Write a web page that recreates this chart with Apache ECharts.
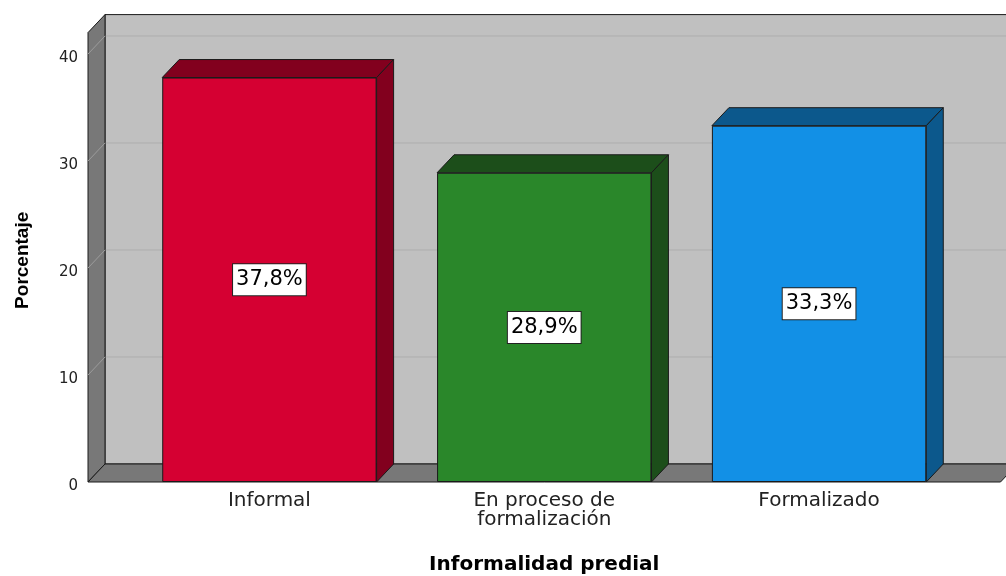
<!DOCTYPE html>
<html>
<head>
<meta charset="utf-8">
<script src="https://cdn.jsdelivr.net/npm/echarts@6/dist/echarts.min.js"></script>
<style>
  html, body { margin: 0; padding: 0; background: #ffffff; }
  #chart { width: 1006px; height: 576px; }
</style>
</head>
<body>
<div id="chart"></div>
<script>
// Informalidad predial: percentage of plots per category
const categories = ['Informal', 'En proceso de\nformalización', 'Formalizado'];
const percentages = [37.8, 28.9, 33.3];
const faceColors = ['#d50032', '#2a872a', '#1290e6'];
const shadeColors = ['#82001e', '#1c4e1a', '#0c588c'];
const gridValues = [10, 20, 30, 40];
const axisMax = 42;

// 3D look: depth offset of the extruded faces and walls (pixels)
const DX = 17, DY = 18;
const WALL_GAP = 44;      // distance between outer walls and first/last category band
const BAR_RATIO = 0.78;   // bar width as share of the category band
const EDGE = '#1a1a1a';

const chart = echarts.init(document.getElementById('chart'), null, { renderer: 'canvas' });

function renderWalls(params, api) {
  const cs = params.coordSys;
  const y0 = api.coord([0, 0])[1];
  const yTop = api.coord([0, axisMax])[1];
  const xl = cs.x - WALL_GAP;
  const xr = cs.x + cs.width + WALL_GAP;
  const farRight = xr + DX + 40;
  const children = [];

  // back wall with its gridlines
  children.push({
    type: 'rect',
    shape: { x: xl + DX, y: yTop - DY, width: farRight - (xl + DX), height: y0 - yTop },
    style: { fill: '#c0c0c0', stroke: EDGE, lineWidth: 1 }
  });
  gridValues.forEach(v => {
    const yv = api.coord([0, v])[1];
    children.push({
      type: 'line',
      shape: { x1: xl + DX, y1: yv - DY, x2: farRight, y2: yv - DY },
      style: { stroke: '#adadad', lineWidth: 1 }
    });
  });

  // left side wall
  children.push({
    type: 'polygon',
    shape: { points: [[xl, y0], [xl, yTop], [xl + DX, yTop - DY], [xl + DX, y0 - DY]] },
    style: { fill: '#787878', stroke: EDGE, lineWidth: 1 }
  });
  gridValues.forEach(v => {
    const yv = api.coord([0, v])[1];
    children.push({
      type: 'line',
      shape: { x1: xl, y1: yv, x2: xl + DX, y2: yv - DY },
      style: { stroke: '#9c9c9c', lineWidth: 1 }
    });
  });

  // floor
  children.push({
    type: 'polygon',
    shape: { points: [[xl, y0], [xl + DX, y0 - DY], [xr + DX, y0 - DY], [xr, y0]] },
    style: { fill: '#787878', stroke: EDGE, lineWidth: 1 }
  });

  return { type: 'group', children: children };
}

function renderBarDepth(params, api) {
  const top = api.coord([api.value(0), api.value(1)]);
  const base = api.coord([api.value(0), 0]);
  const w = api.size([1, 0])[0] * BAR_RATIO;
  const x0 = top[0] - w / 2;
  const x1 = top[0] + w / 2;
  const shade = shadeColors[params.dataIndex];
  return {
    type: 'group',
    children: [
      {
        type: 'polygon',
        shape: { points: [[x0, top[1]], [x0 + DX, top[1] - DY], [x1 + DX, top[1] - DY], [x1, top[1]]] },
        style: { fill: shade, stroke: EDGE, lineWidth: 1 }
      },
      {
        type: 'polygon',
        shape: { points: [[x1, top[1]], [x1 + DX, top[1] - DY], [x1 + DX, base[1] - DY], [x1, base[1]]] },
        style: { fill: shade, stroke: EDGE, lineWidth: 1 }
      }
    ]
  };
}

const option = {
  animation: false,
  backgroundColor: '#ffffff',
  grid: {
    left: 132, right: 49.5, top: 32.6, bottom: 94,
    containLabel: false,
    outerBoundsMode: 'none'
  },
  xAxis: {
    type: 'category',
    data: categories,
    axisLine: { show: false },
    axisTick: { show: false },
    axisLabel: {
      margin: 9,
      fontFamily: 'DejaVu Sans',
      fontSize: 20,
      lineHeight: 19,
      color: '#222222'
    },
    name: 'Informalidad predial',
    nameLocation: 'middle',
    nameGap: 73,
    nameTextStyle: {
      fontFamily: 'DejaVu Sans',
      fontWeight: 'bold',
      fontSize: 20,
      color: '#000000'
    }
  },
  yAxis: {
    type: 'value',
    min: 0,
    max: axisMax,
    interval: 10,
    axisLine: { show: false },
    axisTick: { show: false },
    splitLine: { show: false },
    axisLabel: {
      margin: 54,
      showMaxLabel: false,
      fontFamily: 'DejaVu Sans',
      fontSize: 15,
      lineHeight: 9,
      verticalAlign: 'top',
      color: '#222222'
    },
    name: 'Porcentaje',
    nameLocation: 'middle',
    nameRotate: 90,
    nameGap: 100,
    nameTextStyle: {
      fontFamily: 'Liberation Sans',
      fontWeight: 'bold',
      fontSize: 19,
      color: '#000000',
      padding: [0, 6, 0, 0]
    }
  },
  series: [
    {
      type: 'custom',
      name: 'walls',
      silent: true,
      clip: false,
      z: 1,
      data: [[0, 0]],
      renderItem: renderWalls
    },
    {
      type: 'custom',
      name: 'depth',
      silent: true,
      clip: false,
      z: 2,
      data: percentages.map((v, i) => [i, v]),
      renderItem: renderBarDepth
    },
    {
      type: 'bar',
      name: 'Porcentaje',
      z: 3,
      barWidth: (BAR_RATIO * 100) + '%',
      data: percentages.map((v, i) => ({
        value: v,
        itemStyle: { color: faceColors[i] }
      })),
      itemStyle: { borderColor: EDGE, borderWidth: 1 },
      label: {
        show: true,
        position: 'inside',
        formatter: p => p.value.toFixed(1).replace('.', ',') + '%',
        fontFamily: 'DejaVu Sans',
        fontSize: 21,
        color: '#000000',
        backgroundColor: '#ffffff',
        borderColor: '#222222',
        borderWidth: 1,
        padding: [5, 3, 5, 3]
      }
    }
  ]
};

chart.setOption(option);
</script>
</body>
</html>
